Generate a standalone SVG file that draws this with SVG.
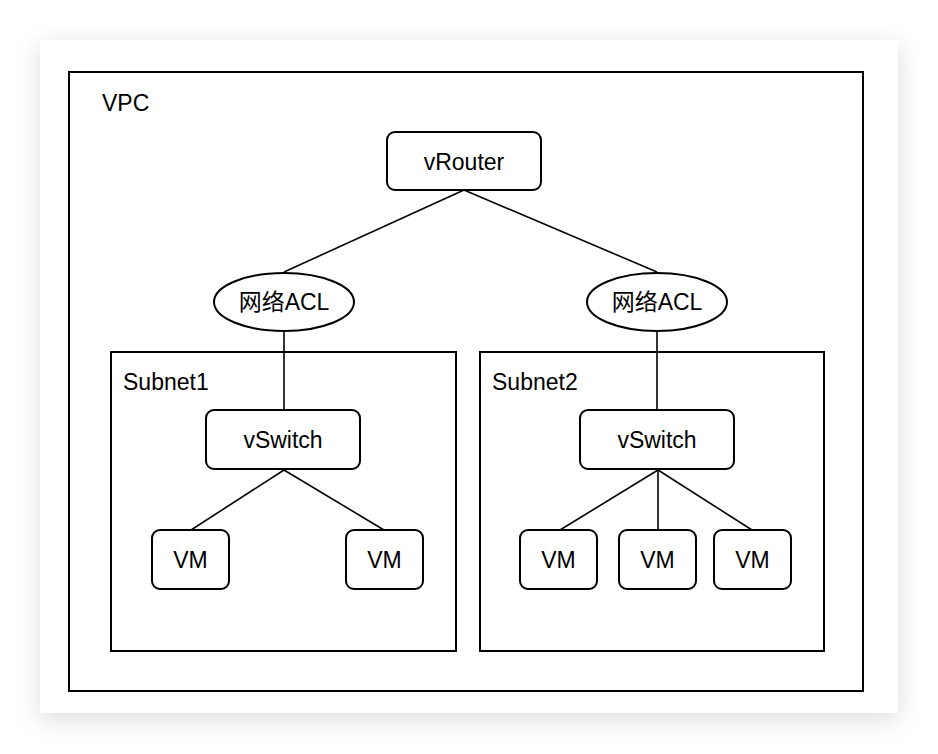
<svg xmlns="http://www.w3.org/2000/svg" width="938" height="754" viewBox="0 0 938 754">
<style>
text{font-family:"Liberation Sans","Noto Sans CJK SC",Arial,sans-serif;font-size:23px;fill:#000}
.c{text-anchor:middle}
.box{fill:#fff;stroke:#000;stroke-width:2}
.node{fill:#fff;stroke:#000;stroke-width:2}
.edge{stroke:#000;stroke-width:1.6;fill:none}
</style>
<defs>
<filter id="sh" x="-10%" y="-10%" width="120%" height="125%">
<feDropShadow dx="0" dy="6" stdDeviation="12" flood-color="#000" flood-opacity="0.14"/>
</filter>
</defs>
<rect width="938" height="754" fill="#fff"/>
<rect x="40" y="40" width="858" height="673" fill="#fff" filter="url(#sh)"/>
<g id="vpc">
<rect class="box" x="69" y="72" width="794" height="619"/>
<text x="102" y="111">VPC</text>
</g>
<g id="subnet1">
<rect class="box" x="111" y="352" width="345" height="299"/>
<text x="123" y="390">Subnet1</text>
</g>
<g id="subnet2">
<rect class="box" x="480" y="352" width="344" height="299"/>
<text x="492" y="390">Subnet2</text>
</g>
<g id="connectors">
<line class="edge" x1="464" y1="190" x2="284" y2="272"/>
<line class="edge" x1="464" y1="190" x2="657" y2="272"/>
<line class="edge" x1="284" y1="331" x2="284" y2="410"/>
<line class="edge" x1="657" y1="331" x2="657" y2="410"/>
<line class="edge" x1="284" y1="470" x2="191" y2="530"/>
<line class="edge" x1="284" y1="470" x2="384" y2="530"/>
<line class="edge" x1="658" y1="470" x2="560" y2="530"/>
<line class="edge" x1="658" y1="470" x2="658" y2="530"/>
<line class="edge" x1="658" y1="470" x2="752" y2="530"/>
</g>
<g id="vrouter">
<rect class="node" x="387" y="132" width="154" height="58" rx="8"/>
<text class="c" x="464" y="170">vRouter</text>
</g>
<g id="acl1">
<ellipse class="node" cx="284" cy="302" rx="70" ry="29"/>
<text class="c" x="284" y="310">网络ACL</text>
</g>
<g id="acl2">
<ellipse class="node" cx="657" cy="302" rx="70" ry="29"/>
<text class="c" x="657" y="310">网络ACL</text>
</g>
<g id="vswitch1">
<rect class="node" x="206" y="410" width="154" height="59" rx="8"/>
<text class="c" x="283" y="448">vSwitch</text>
</g>
<g id="vswitch2">
<rect class="node" x="580" y="410" width="154" height="59" rx="8"/>
<text class="c" x="657" y="448">vSwitch</text>
</g>
<g id="vm1">
<rect class="node" x="152" y="530" width="77" height="59" rx="8"/>
<text class="c" x="190.5" y="568">VM</text>
</g>
<g id="vm2">
<rect class="node" x="346" y="530" width="77" height="59" rx="8"/>
<text class="c" x="384.5" y="568">VM</text>
</g>
<g id="vm3">
<rect class="node" x="520" y="530" width="77" height="59" rx="8"/>
<text class="c" x="558.5" y="568">VM</text>
</g>
<g id="vm4">
<rect class="node" x="619" y="530" width="77" height="59" rx="8"/>
<text class="c" x="657.5" y="568">VM</text>
</g>
<g id="vm5">
<rect class="node" x="714" y="530" width="77" height="59" rx="8"/>
<text class="c" x="752.5" y="568">VM</text>
</g>
</svg>
